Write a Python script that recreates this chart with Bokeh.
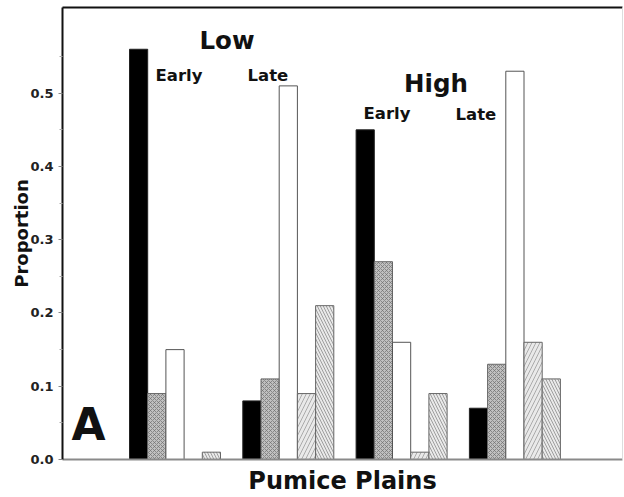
from bokeh.plotting import figure
from bokeh.models import Range1d, FixedTicker, LinearAxis, NumeralTickFormatter, Label
from bokeh.embed import file_html
from bokeh.resources import INLINE

# ---- data ----
groups = ["Low Early", "Low Late", "High Early", "High Late"]
black_vals = [0.56, 0.08, 0.45, 0.07]
cross_vals = [0.09, 0.11, 0.27, 0.13]
white_vals = [0.15, 0.51, 0.16, 0.53]
fwd_vals = [0.00, 0.09, 0.01, 0.16]
back_vals = [0.01, 0.21, 0.09, 0.11]
y_ticks = [0.0, 0.1, 0.2, 0.3, 0.4, 0.5]
y_minor = [0.05, 0.15, 0.25, 0.35, 0.45, 0.55]

FONT = "DejaVu Sans"

series = [
    (black_vals, dict(fill_color="black", line_color="#222222")),
    (cross_vals, dict(fill_color="#c0c0c0", hatch_pattern="x", hatch_color="#707070",
                      hatch_scale=4, hatch_weight=0.7, line_color="#666666")),
    (white_vals, dict(fill_color="white", line_color="#555555")),
    (fwd_vals, dict(fill_color="#e9e9e9", hatch_pattern="/", hatch_color="#9a9a9a",
                    hatch_scale=8, hatch_weight=0.8, line_color="#666666")),
    (back_vals, dict(fill_color="#e9e9e9", hatch_pattern="\\", hatch_color="#8a8a8a",
                     hatch_scale=6, hatch_weight=0.8, line_color="#666666")),
]

p = figure(width=624, height=497, output_backend="svg", toolbar_location=None,
           x_range=Range1d(0, 560), y_range=Range1d(0, 0.617),
           min_border_left=62, min_border_right=2, min_border_top=7, min_border_bottom=37)
p.outline_line_color = None
p.grid.visible = False
p.background_fill_color = "white"

# layout of bars (screen-like data units along x)
first_left = 67.0
group_step = 113.3
bar_w = 18.2

for j, (vals, style) in enumerate(series):
    xs = [first_left + i * group_step + (j + 0.5) * bar_w for i in range(len(groups))]
    p.vbar(x=xs, top=vals, bottom=0, width=bar_w, line_width=1, **style)

# y axis
ya = p.yaxis[0]
ya.ticker = FixedTicker(ticks=y_ticks, minor_ticks=y_minor)
ya.formatter = NumeralTickFormatter(format="0.0")
ya.axis_line_color = "#111111"
ya.axis_line_width = 2
ya.major_tick_line_color = "#888888"
ya.minor_tick_line_color = "#aaaaaa"
ya.major_tick_in = 0
ya.major_tick_out = 4
ya.minor_tick_in = 0
ya.minor_tick_out = 3
ya.major_label_standoff = 5
ya.major_label_text_font = FONT
ya.major_label_text_font_style = "bold"
ya.major_label_text_font_size = "13px"
ya.major_label_text_color = "#222222"
ya.axis_label = "Proportion"
ya.axis_label_text_font = FONT
ya.axis_label_text_font_style = "bold"
ya.axis_label_text_font_size = "18px"
ya.axis_label_text_color = "#111111"
ya.axis_label_standoff = -5

# x axis: bare line plus title
xa = p.xaxis[0]
xa.ticker = FixedTicker(ticks=[])
xa.major_label_text_font_size = "0px"
xa.major_tick_line_color = None
xa.minor_tick_line_color = None
xa.major_tick_out = 0
xa.major_label_standoff = 0
xa.axis_line_color = "#8a8a8a"
xa.axis_line_width = 2
xa.axis_label = "Pumice Plains"
xa.axis_label_text_font = FONT
xa.axis_label_text_font_style = "bold"
xa.axis_label_text_font_size = "24px"
xa.axis_label_text_color = "#111111"
xa.axis_label_standoff = 7

# top and right frame lines
top = LinearAxis(ticker=FixedTicker(ticks=[]), major_label_text_font_size="0px",
                 major_tick_line_color=None, minor_tick_line_color=None,
                 major_tick_out=0, major_label_standoff=0,
                 axis_line_color="#111111", axis_line_width=2)
p.add_layout(top, "above")
right = LinearAxis(ticker=FixedTicker(ticks=[]), major_label_text_font_size="0px",
                   major_tick_line_color=None, minor_tick_line_color=None,
                   major_tick_out=0, major_label_standoff=0,
                   axis_line_color="#dddddd", axis_line_width=1)
p.add_layout(right, "right")

def lab(text, x, y, size, align="left"):
    p.add_layout(Label(x=x, y=y, text=text, text_font=FONT, text_font_style="bold",
                       text_font_size=size, text_align=align, text_baseline="alphabetic",
                       text_color="#111111"))

lab("Low", 164.5, 0.572, "24.5px", "center")
lab("Early", 93, 0.524, "16.5px")
lab("Late", 185, 0.524, "16.5px")
lab("High", 373.5, 0.513, "24.5px", "center")
lab("Early", 301, 0.472, "16.5px")
lab("Late", 393, 0.471, "16.5px")
lab("A", 9, 0.0477, "44px")

open("out.html", "w").write(file_html(p, INLINE))
